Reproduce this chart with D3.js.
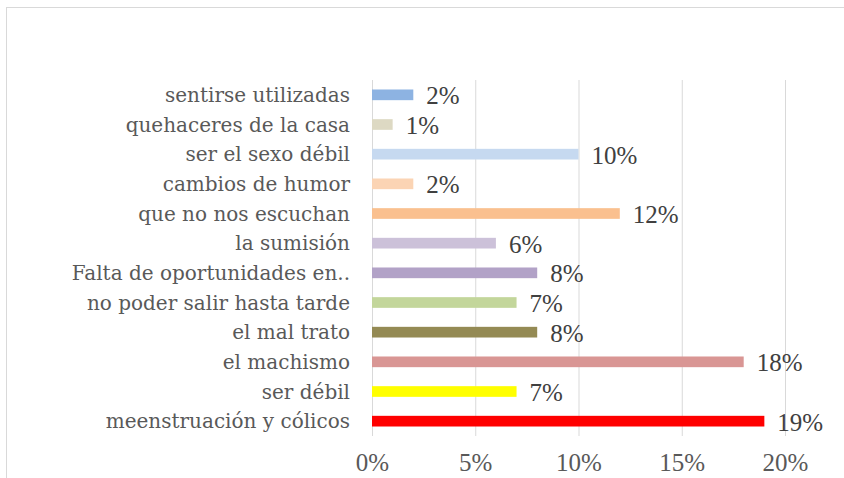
<!DOCTYPE html>
<html>
<head>
<meta charset="utf-8">
<script src="https://cdn.jsdelivr.net/npm/d3@7"></script>
<style>
  body { margin: 0; background: #fff; }
  svg { display: block; }
  .cat { font-family: 'DejaVu Serif', serif; font-size: 20px; fill: #595959; }
  .val { font-family: 'Liberation Serif', serif; font-size: 25px; fill: #404040; }
  .tick text { font-family: 'Liberation Serif', serif; font-size: 25px; fill: #595959; }
</style>
</head>
<body>
<div id="chart"></div>
<script>
// data, top to bottom
var categories = ['sentirse utilizadas', 'quehaceres de la casa', 'ser el sexo  débil', 'cambios de humor',
    'que no nos escuchan', 'la sumisión ', 'Falta de oportunidades en..', 'no poder salir hasta tarde',
    'el mal trato', 'el machismo', 'ser débil', 'meenstruación y cólicos'];
var values = [2, 1, 10, 2, 12, 6, 8, 7, 8, 18, 7, 19];
var colors = ['#8DB3E2', '#DDD9C3', '#C6D9F0', '#FBD4B4', '#FAC08F', '#CCC1D9',
    '#B2A2C7', '#C3D69B', '#948A54', '#D99694', '#FFFF00', '#FF0000'];
var xTicks = [0, 5, 10, 15, 20];

var width = 844, height = 478;
var margin = { top: 80, right: 59, bottom: 42, left: 372 };

var svg = d3.select('#chart').append('svg')
    .attr('width', width)
    .attr('height', height);

// chart frame
svg.append('rect')
    .attr('x', 6.5).attr('y', 7.5)
    .attr('width', 900).attr('height', 600)
    .attr('fill', 'none')
    .attr('stroke', '#D9D9D9');

var x = d3.scaleLinear()
    .domain([0, 20])
    .range([margin.left, margin.left + 413]);

var y = d3.scaleBand()
    .domain(categories)
    .range([margin.top, height - margin.bottom])
    .paddingInner(0.64)
    .paddingOuter(0.32);

// vertical gridlines
svg.append('g')
    .selectAll('line')
    .data(xTicks)
    .enter()
    .append('line')
    .attr('x1', function (d) { return x(d) + 0.5; })
    .attr('x2', function (d) { return x(d) + 0.5; })
    .attr('y1', margin.top)
    .attr('y2', height - margin.bottom)
    .attr('stroke', '#D9D9D9');

// x axis labels
var xAxis = d3.axisBottom(x)
    .tickValues(xTicks)
    .tickFormat(function (d) { return d + '%'; })
    .tickSize(0)
    .tickPadding(0);

svg.append('g')
    .attr('transform', 'translate(0,' + (height - margin.bottom + 17) + ')')
    .call(xAxis)
    .call(function (g) { g.select('.domain').remove(); });

// bars
svg.append('g')
    .selectAll('rect')
    .data(values)
    .enter()
    .append('rect')
    .attr('x', x(0))
    .attr('y', function (d, i) { return y(categories[i]); })
    .attr('width', function (d) { return x(d) - x(0); })
    .attr('height', y.bandwidth())
    .attr('fill', function (d, i) { return colors[i]; });

// value labels
svg.append('g')
    .selectAll('text')
    .data(values)
    .enter()
    .append('text')
    .attr('class', 'val')
    .attr('x', function (d) { return x(d) + 13; })
    .attr('y', function (d, i) { return y(categories[i]) + y.bandwidth() / 2; })
    .attr('dy', '0.38em')
    .text(function (d) { return d + '%'; });

// category labels
svg.append('g')
    .selectAll('text')
    .data(categories)
    .enter()
    .append('text')
    .attr('class', 'cat')
    .attr('x', 350)
    .attr('y', function (d) { return y(d) + y.bandwidth() / 2; })
    .attr('dy', '0.36em')
    .attr('text-anchor', 'end')
    .text(function (d) { return d; });
</script>
</body>
</html>
